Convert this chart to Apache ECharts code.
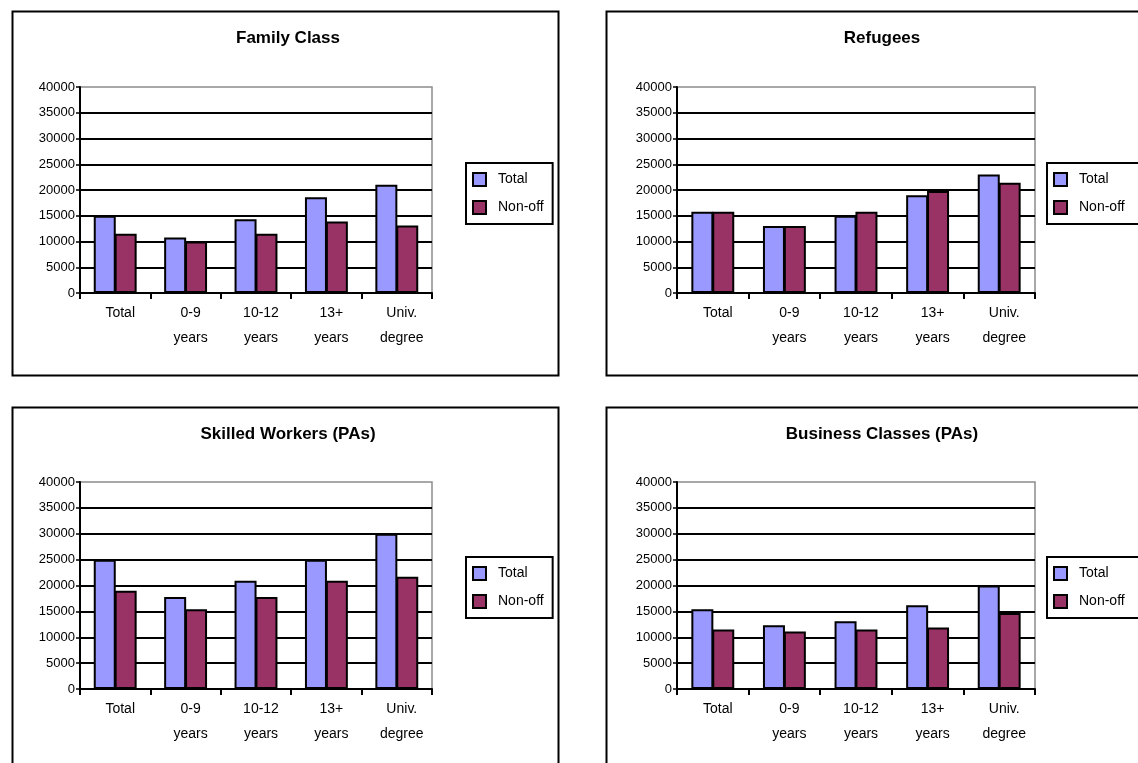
<!DOCTYPE html>
<html>
<head>
<meta charset="utf-8">
<title>Immigrant earnings by education</title>
<script src="https://cdn.jsdelivr.net/npm/echarts@6/dist/echarts.min.js"></script>
<style>
  html, body { margin: 0; padding: 0; background: #ffffff; }
  #chart { width: 1138px; height: 763px; }
</style>
</head>
<body>
<div id="chart"></div>
<script>
// Education categories on the horizontal axis
const categories = ['Total', '0-9\nyears', '10-12\nyears', '13+\nyears', 'Univ.\ndegree'];
const seriesNames = ['Total', 'Non-off'];
const panelTitles = ['Family Class', 'Refugees', 'Skilled Workers (PAs)', 'Business Classes (PAs)'];

// Value axis range shared by all panels
const yMin = 0;
const yMax = 40000;
const yStep = 5000;

// Values per immigration class
const familyTotal    = [15000, 10800, 14300, 18600, 21000];
const familyNonOff   = [11500, 10000, 11500, 13900, 13100];
const refugeeTotal   = [15800, 13000, 15000, 19000, 23000];
const refugeeNonOff  = [15800, 13000, 15800, 19800, 21400];
const skilledTotal   = [25000, 17800, 20900, 25000, 30000];
const skilledNonOff  = [19000, 15400, 17800, 20900, 21700];
const businessTotal  = [15400, 12300, 13100, 16200, 20000];
const businessNonOff = [11500, 11100, 11500, 11900, 14700];

const panelData = [
  [familyTotal, familyNonOff],
  [refugeeTotal, refugeeNonOff],
  [skilledTotal, skilledNonOff],
  [businessTotal, businessNonOff]
];

const FONT = "'Liberation Sans', Arial, sans-serif";
const COLORS = ['#9999ff', '#993366'];

// Layout of the four panels (frame, plot area, title, legend)
const panels = [
  { frame: [10, 9],   grid: { left: 80,  top: 87,  width: 352, height: 206 }, titleX: 283, titleY: 25,  legend: [466, 163],  legendPadRight: 9 },
  { frame: [604, 9],  grid: { left: 677, top: 87,  width: 358, height: 206 }, titleX: 877, titleY: 25,  legend: [1047, 163], legendPadRight: 40 },
  { frame: [10, 405], grid: { left: 80,  top: 482, width: 352, height: 207 }, titleX: 283, titleY: 421, legend: [466, 557],  legendPadRight: 9 },
  { frame: [604, 405],grid: { left: 677, top: 482, width: 358, height: 207 }, titleX: 877, titleY: 421, legend: [1047, 557], legendPadRight: 40 }
];

const chart = echarts.init(document.getElementById('chart'), null, { renderer: 'canvas' });

const option = {
  backgroundColor: '#ffffff',
  animation: false,
  textStyle: { fontFamily: FONT },
  title: panels.map((p, i) => ({
    text: panelTitles[i],
    left: p.titleX,
    top: p.titleY,
    textAlign: 'center',
    textStyle: { fontFamily: FONT, fontSize: 17, fontWeight: 'bold', color: '#000' }
  })),
  legend: panels.map(p => ({
    data: seriesNames,
    orient: 'vertical',
    left: p.legend[0],
    top: p.legend[1],
    padding: [9, p.legendPadRight, 9, 6],
    itemWidth: 13,
    itemHeight: 13,
    itemGap: 13,
    icon: 'rect',
    borderColor: '#000',
    borderWidth: 2,
    selectedMode: false,
    textStyle: { fontFamily: FONT, fontSize: 14, color: '#000', padding: [0, 0, 4, 7] }
  })),
  grid: panels.map(p => Object.assign({
    show: true,
    borderColor: '#8c8c8c',
    borderWidth: 1.5,
    backgroundColor: 'transparent'
  }, p.grid)),
  xAxis: panels.map((p, i) => ({
    type: 'category',
    gridIndex: i,
    data: categories,
    axisLine: { lineStyle: { color: '#000', width: 2 } },
    axisTick: { show: true, length: 6, lineStyle: { color: '#000', width: 2 } },
    axisLabel: {
      color: '#000', fontFamily: FONT, fontSize: 14, lineHeight: 25,
      margin: 8, padding: [0, 0, 0, 10], interval: 0
    },
    splitLine: { show: false }
  })),
  yAxis: panels.map((p, i) => ({
    type: 'value',
    gridIndex: i,
    min: yMin,
    max: yMax,
    interval: yStep,
    axisLine: { show: true, lineStyle: { color: '#000', width: 2 } },
    axisTick: { show: true, length: 4, lineStyle: { color: '#000', width: 1.5 } },
    axisLabel: {
      color: '#000', fontFamily: FONT, fontSize: 13, margin: 5,
      formatter: v => String(v)
    },
    splitLine: { show: true, showMaxLine: false, lineStyle: { color: '#000', width: 2 } }
  })),
  series: [],
  graphic: panels.map(p => ({
    type: 'rect',
    left: p.frame[0],
    top: p.frame[1],
    shape: { width: 546, height: 364 },
    style: { fill: 'none', stroke: '#000', lineWidth: 2 },
    silent: true,
    z: 100
  }))
};

panelData.forEach((pair, i) => {
  pair.forEach((values, s) => {
    option.series.push({
      type: 'bar',
      name: seriesNames[s],
      xAxisIndex: i,
      yAxisIndex: i,
      data: values,
      barWidth: 22,
      barGap: '-5%',
      itemStyle: { color: COLORS[s], borderColor: '#000', borderWidth: 2 },
      emphasis: { disabled: true }
    });
  });
});

chart.setOption(option);
</script>
</body>
</html>
